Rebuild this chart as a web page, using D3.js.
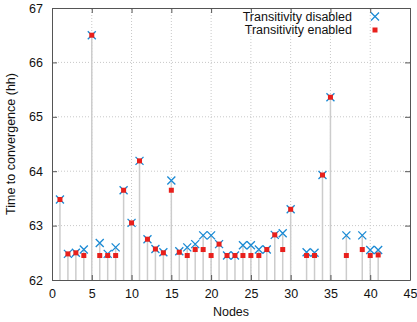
<!DOCTYPE html>
<html>
<head>
<meta charset="utf-8">
<script src="https://cdn.jsdelivr.net/npm/d3@7"></script>
<style>
  body { margin: 0; background: #fff; }
  text { font-family: "Liberation Sans", Arial, sans-serif; fill: #111; }
</style>
</head>
<body>
<div id="chart"></div>
<script>
// chart size and margins
const FRAME_WIDTH = 417;
const FRAME_HEIGHT = 322;
const MARGINS = {left: 52, right: 7, top: 8, bottom: 42};

// data (null = no value for that node)
const nodes = d3.range(1, 42);
const disabled = [63.48, 62.48, 62.50, 62.56, 66.50, 62.68, 62.48, 62.60, 63.65, 63.05,
                  64.19, 62.75, 62.57, 62.51, 63.83, 62.53, 62.60, 62.66, 62.82, 62.82,
                  62.66, 62.45, 62.45, 62.64, 62.64, 62.56, 62.56, 62.83, 62.86, 63.30,
                  null, 62.51, 62.50, 63.93, 65.36, null, 62.82, null, 62.82, 62.55, 62.55];
const enabled  = [63.48, 62.48, 62.50, 62.45, 66.50, 62.45, 62.45, 62.45, 63.65, 63.05,
                  64.19, 62.75, 62.57, 62.50, 63.65, 62.51, 62.45, 62.56, 62.56, 62.45,
                  62.66, 62.45, 62.45, 62.45, 62.45, 62.45, 62.56, 62.83, 62.56, 63.30,
                  null, 62.45, 62.45, 63.93, 65.36, null, 62.45, null, 62.56, 62.45, 62.46];
const xTicks = [0, 5, 10, 15, 20, 25, 30, 35, 40, 45];
const yTicks = [62, 63, 64, 65, 66, 67];
const seriesNames = ["Transitivity disabled", "Transitivity enabled"];

const VIS_WIDTH = FRAME_WIDTH - MARGINS.left - MARGINS.right;
const VIS_HEIGHT = FRAME_HEIGHT - MARGINS.top - MARGINS.bottom;

const svg = d3.select("#chart")
  .append("svg")
    .attr("width", FRAME_WIDTH)
    .attr("height", FRAME_HEIGHT);

const x = d3.scaleLinear().domain([0, 45]).range([MARGINS.left, MARGINS.left + VIS_WIDTH]);
const y = d3.scaleLinear().domain([62, 67]).range([MARGINS.top + VIS_HEIGHT, MARGINS.top]);

// dotted grid
svg.append("g").selectAll("line")
  .data(xTicks.slice(1, -1))
  .enter().append("line")
    .attr("x1", d => x(d)).attr("x2", d => x(d))
    .attr("y1", y(62)).attr("y2", y(67))
    .attr("stroke", "#c8c8c8").attr("stroke-dasharray", "1,2");
svg.append("g").selectAll("line")
  .data(yTicks.slice(1, -1))
  .enter().append("line")
    .attr("x1", x(0)).attr("x2", x(45))
    .attr("y1", d => y(d)).attr("y2", d => y(d))
    .attr("stroke", "#c8c8c8").attr("stroke-dasharray", "1,2");

// impulses
const rows = nodes.map((n, i) => ({n: n, dis: disabled[i], en: enabled[i]}))
  .filter(d => d.dis !== null);

svg.append("g").selectAll("line")
  .data(rows)
  .enter().append("line")
    .attr("x1", d => x(d.n)).attr("x2", d => x(d.n))
    .attr("y1", y(62)).attr("y2", d => y(Math.max(d.dis, d.en)))
    .attr("stroke", "#cccccc").attr("stroke-width", 1.5);

// axes (ticks inside, mirrored)
const tick = 5;
const bottomAxis = svg.append("g")
  .attr("transform", "translate(0," + y(62) + ")")
  .call(d3.axisBottom(x).tickValues(xTicks).tickSizeInner(-tick).tickSizeOuter(0).tickPadding(9));
const topAxis = svg.append("g")
  .attr("transform", "translate(0," + y(67) + ")")
  .call(d3.axisTop(x).tickValues(xTicks).tickSizeInner(-tick).tickSizeOuter(0).tickFormat(""));
const leftAxis = svg.append("g")
  .attr("transform", "translate(" + x(0) + ",0)")
  .call(d3.axisLeft(y).tickValues(yTicks).tickFormat(d3.format("d"))
          .tickSizeInner(-tick).tickSizeOuter(0).tickPadding(9));
const rightAxis = svg.append("g")
  .attr("transform", "translate(" + x(45) + ",0)")
  .call(d3.axisRight(y).tickValues(yTicks).tickSizeInner(-tick).tickSizeOuter(0).tickFormat(""));

[bottomAxis, topAxis, leftAxis, rightAxis].forEach(a => {
  a.select(".domain").attr("stroke", "#555");
  a.selectAll(".tick line").attr("stroke", "#555");
  a.selectAll(".tick text")
    .attr("font-size", 12.5)
    .attr("fill", "#111")
    .attr("font-family", "Liberation Sans, Arial, sans-serif");
});

// blue crosses (disabled)
function cross(sel, cx, cy) {
  const s = 4;
  sel.append("path")
    .attr("d", "M" + (cx - s) + "," + (cy - s) + "L" + (cx + s) + "," + (cy + s) +
               "M" + (cx - s) + "," + (cy + s) + "L" + (cx + s) + "," + (cy - s))
    .attr("stroke", "#1a8ad4").attr("stroke-width", 1.3).attr("fill", "none");
}
const crossG = svg.append("g");
rows.forEach(d => cross(crossG, x(d.n), y(d.dis)));

// red squares (enabled), drawn on top
svg.append("g").selectAll("rect")
  .data(rows)
  .enter().append("rect")
    .attr("x", d => x(d.n) - 2.5)
    .attr("y", d => y(d.en) - 2.5)
    .attr("width", 5).attr("height", 5)
    .attr("fill", "#e8201c");

// legend
svg.append("text")
  .attr("x", 352).attr("y", 21)
  .attr("text-anchor", "end").attr("font-size", 12.5)
  .text(seriesNames[0]);
cross(svg, 375, 16.5);
svg.append("text")
  .attr("x", 352).attr("y", 34)
  .attr("text-anchor", "end").attr("font-size", 12.5)
  .text(seriesNames[1]);
svg.append("rect")
  .attr("x", 375 - 2.5).attr("y", 30 - 2.5)
  .attr("width", 5).attr("height", 5)
  .attr("fill", "#e8201c");

// axis titles
svg.append("text")
  .attr("x", x(22.5)).attr("y", 316)
  .attr("text-anchor", "middle").attr("font-size", 12.5)
  .text("Nodes");
svg.append("text")
  .attr("transform", "translate(15," + y(64.5) + ") rotate(-90)")
  .attr("text-anchor", "middle").attr("font-size", 12.5)
  .text("Time to convergence (hh)");
</script>
</body>
</html>
